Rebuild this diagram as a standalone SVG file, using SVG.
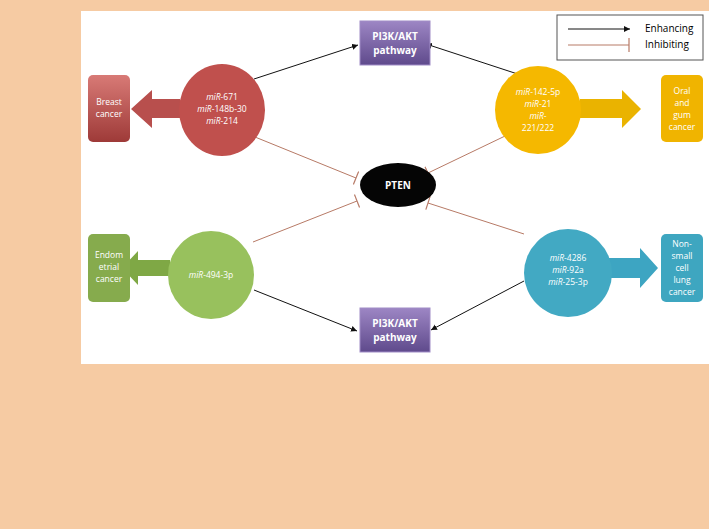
<svg xmlns="http://www.w3.org/2000/svg" width="709" height="529" viewBox="0 0 709 529">
<style>
text{font-family:"Open Sans","Liberation Sans",sans-serif;font-size:8.5px;fill:#fff;text-anchor:middle}
.b{font-weight:bold;font-size:10px}
.k{fill:#000;text-anchor:start;font-size:10px}
.e{stroke:#111;stroke-width:1;fill:none;marker-end:url(#ar)}
.i{stroke:#b77a66;stroke-width:1;fill:none;marker-end:url(#bar)}
</style>
<defs>
<marker id="ar" markerWidth="8" markerHeight="8" refX="6" refY="3" orient="auto" markerUnits="userSpaceOnUse"><path d="M0,0L6,3L0,6z" fill="#111"/></marker>
<marker id="bar" markerWidth="4" markerHeight="14" refX="1" refY="7" orient="auto" markerUnits="userSpaceOnUse"><path d="M1,0V14" stroke="#b77a66" stroke-width="1.2"/></marker>
<linearGradient id="pu" x1="0" y1="0" x2="0" y2="1"><stop offset="0" stop-color="#9d86c4"/><stop offset="1" stop-color="#5f4a8c"/></linearGradient>
<linearGradient id="rd" x1="0" y1="0" x2="0" y2="1"><stop offset="0" stop-color="#d87a76"/><stop offset="1" stop-color="#9e3a38"/></linearGradient>
</defs>
<rect width="709" height="529" fill="#f6cba3"/>
<rect x="81" y="11" width="628" height="353" fill="#fff"/>
<g id="legend"><rect x="557" y="15" width="146" height="45" fill="#fff" stroke="#555"/>
<line x1="568" y1="29" x2="630" y2="29" class="e"/><line x1="568" y1="45" x2="629" y2="45" class="i"/>
<text class="k" x="645" y="32">Enhancing</text><text class="k" x="645" y="48">Inhibiting</text></g>
<g id="connectors">
<line x1="254" y1="79" x2="358" y2="45" class="e"/>
<line x1="539" y1="81" x2="426" y2="44" class="e"/>
<line x1="254" y1="290" x2="357" y2="331" class="e"/>
<line x1="524" y1="281" x2="431" y2="330" class="e"/>
<line x1="255" y1="137" x2="356" y2="178" class="i"/>
<line x1="528" y1="125" x2="428" y2="173" class="i"/>
<line x1="253" y1="242" x2="357" y2="201" class="i"/>
<line x1="524" y1="234" x2="428" y2="203" class="i"/>
</g>
<g id="pi3k-top"><rect x="360" y="21" width="70" height="44" fill="url(#pu)" stroke="#a08cc6"/><text class="b" x="395" y="40">PI3K/AKT</text><text class="b" x="395" y="54">pathway</text></g>
<g id="pi3k-bottom"><rect x="360" y="308" width="70" height="44" fill="url(#pu)" stroke="#a08cc6"/><text class="b" x="395" y="327">PI3K/AKT</text><text class="b" x="395" y="341">pathway</text></g>
<g id="pten"><ellipse cx="398" cy="185" rx="38" ry="22" fill="#050505"/><text class="b" x="398" y="189">PTEN</text></g>
<g id="breast"><path d="M180,99H152V90L131,109L152,128V118H180z" fill="#b84f4d"/><rect x="88" y="75" width="42" height="67" rx="5" fill="url(#rd)"/><text x="109" y="105">Breast</text><text x="109" y="117">cancer</text></g>
<g id="mir-red"><ellipse cx="222" cy="110" rx="43" ry="46" fill="#c0504d"/><text x="222" y="100"><tspan font-style="italic">miR</tspan>-671</text><text x="222" y="112"><tspan font-style="italic">miR</tspan>-148b-30</text><text x="222" y="124"><tspan font-style="italic">miR</tspan>-214</text></g>
<g id="oral"><path d="M580,99H622V90L641,109L622,128V118H580z" fill="#eab300"/><rect x="661" y="75" width="42" height="67" rx="5" fill="#f0b400"/><text x="682" y="94">Oral</text><text x="682" y="106">and</text><text x="682" y="118">gum</text><text x="682" y="130">cancer</text></g>
<g id="mir-yellow"><ellipse cx="538" cy="110" rx="43" ry="44" fill="#f5b800"/><text x="538" y="95"><tspan font-style="italic">miR</tspan>-142-5p</text><text x="538" y="107"><tspan font-style="italic">miR</tspan>-21</text><text x="538" y="119"><tspan font-style="italic">miR</tspan>-</text><text x="538" y="131">221/222</text></g>
<g id="endo"><path d="M170,260H138V251L122,268L138,285V276H170z" fill="#7fa845"/><rect x="88" y="234" width="42" height="68" rx="5" fill="#86ab4d"/><text x="109" y="258">Endom</text><text x="109" y="270">etrial</text><text x="109" y="282">cancer</text></g>
<g id="mir-green"><ellipse cx="211" cy="275" rx="43" ry="44" fill="#98c15d"/><text x="211" y="278"><tspan font-style="italic">miR</tspan>-494-3p</text></g>
<g id="nsclc"><path d="M600,258H640V248L658,268L640,288V278H600z" fill="#3da5c2"/><rect x="661" y="234" width="42" height="68" rx="5" fill="#3ea6c0"/><text x="682" y="247">Non-</text><text x="682" y="259">small</text><text x="682" y="271">cell</text><text x="682" y="283">lung</text><text x="682" y="295">cancer</text></g>
<g id="mir-teal"><ellipse cx="568" cy="273" rx="44" ry="44" fill="#42a9c3"/><text x="568" y="261"><tspan font-style="italic">miR</tspan>-4286</text><text x="568" y="273"><tspan font-style="italic">miR</tspan>-92a</text><text x="568" y="285"><tspan font-style="italic">miR</tspan>-25-3p</text></g>
</svg>
